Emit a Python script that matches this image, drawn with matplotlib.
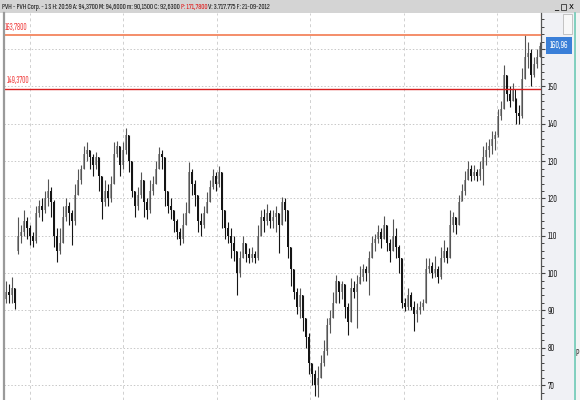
import matplotlib
matplotlib.use("Agg")
import matplotlib.pyplot as plt
from matplotlib.patches import Rectangle
from matplotlib.lines import Line2D
from matplotlib import font_manager as fm
import numpy as np

# ---------------- data ----------------
closes = [95, 94, 96, 92, 110, 111, 114, 112, 110, 108.5,
          116, 118, 117, 120, 122, 119, 110, 106, 108, 115,
          118, 116, 114, 121, 125, 128, 132, 133, 131, 129,
          131, 126, 119, 122, 120, 124, 132, 134, 129, 133,
          137, 130, 122, 118, 121, 125, 119, 117, 122, 124,
          128, 132, 131, 122, 118, 117, 114, 111, 109, 113,
          116, 127, 124, 121, 114, 113, 116, 119, 123, 126,
          124, 127, 117, 112, 110, 108, 106, 100, 104, 108,
          105, 104, 105, 104, 110, 115, 114, 116, 114, 115,
          116, 113, 119, 117, 107, 101, 95, 91, 94, 88,
          83, 76, 73, 70, 72, 76, 79, 86, 88, 92,
          98, 95, 97, 91, 87, 96, 95, 97, 99, 101,
          100, 104, 108, 109, 111, 109, 113, 108, 106, 110,
          107, 104, 92, 91, 94, 91, 89, 90, 91, 92,
          101, 102, 100, 101, 99, 104, 106, 104, 113, 115,
          113, 119, 122, 125, 128, 126, 127, 126, 128, 131,
          133, 134, 136, 137, 142, 144, 153, 148, 146, 149,
          143, 142, 152, 158, 159, 153, 156, 158, 160.96]

opens = [93, 95, 94, 96, 106, 110, 111, 114, 112, 110,
         108.5, 116, 118, 117, 120, 122, 119, 110, 106, 108,
         115, 118, 116, 114, 121, 125, 128, 132, 133, 131,
         129, 131, 126, 119, 122, 120, 124, 132, 134, 129,
         133, 137, 130, 122, 118, 121, 125, 119, 117, 122,
         124, 128, 132, 131, 122, 118, 117, 114, 111, 109,
         113, 116, 127, 124, 121, 114, 113, 116, 119, 123,
         126, 124, 127, 117, 112, 110, 108, 106, 100, 104,
         108, 105, 104, 105, 104, 110, 115, 114, 116, 114,
         115, 116, 113, 119, 117, 107, 101, 95, 91, 94,
         88, 83, 76, 73, 70, 72, 76, 79, 86, 88,
         92, 98, 95, 97, 91, 87, 96, 95, 97, 99,
         101, 100, 104, 108, 109, 111, 109, 113, 108, 106,
         110, 107, 104, 92, 91, 94, 91, 89, 90, 91,
         92, 101, 102, 100, 101, 99, 104, 106, 104, 113,
         115, 113, 119, 122, 125, 128, 126, 127, 126, 128,
         131, 133, 134, 136, 137, 142, 144, 153, 148, 146,
         149, 143, 142, 152, 158, 159, 153, 156, 158]

highs = [98, 97, 99, 96, 115, 113, 117, 115, 113, 111,
         118, 119.5, 120, 122, 125.3, 123, 119.5, 112, 112, 118,
         120, 119, 117, 124, 128, 129, 134, 135, 133, 132,
         132.5, 131, 126, 125, 124, 126, 135, 135.5, 134, 135,
         138.8, 137, 130, 122, 123, 127, 125, 120, 125, 126,
         130, 133.8, 133, 131, 122, 120, 117, 114.5, 112, 116,
         119, 129.8, 128, 125, 121, 116, 118, 121.8, 125, 128,
         127, 128.7, 127, 117, 113.8, 112, 110, 106, 106, 110,
         108, 106.6, 107, 106, 113, 117, 117.3, 118.5, 117, 117,
         118, 116, 120.5, 120, 117, 107, 101, 96, 96, 94,
         88, 84, 76, 74, 75, 78, 82, 88, 90, 95,
         99.5, 98, 98, 97, 92, 98.7, 98, 99.5, 102, 102.5,
         102, 106, 110, 110.5, 113, 112, 115.2, 113, 109, 114.6,
         112, 107.4, 104, 93.4, 96, 95, 92.5, 92, 92.5, 93,
         104, 104, 103, 104.5, 102, 107, 108.8, 107, 116.8, 116.5,
         115, 121, 124, 127.4, 130, 129, 129, 128, 130, 134,
         135, 136, 138, 138, 144, 146, 155.8, 153, 150, 151,
         147, 145, 155, 163.8, 162, 160, 158, 160, 162]

lows = [92, 92, 92, 90.5, 105, 108, 110, 109, 107.5, 107,
        108, 115, 114, 116, 118, 115, 107, 103, 105, 108,
        114, 113, 107.5, 113, 121, 124, 128, 130, 128, 126,
        128, 122, 114.6, 118, 118, 119, 124, 131, 126, 128,
        132, 127, 120.5, 115, 117, 120, 115, 114.6, 116, 121,
        124, 128, 128, 118, 116, 114.6, 111, 109, 107.4, 108,
        113, 116, 121, 118, 111, 110, 112, 116, 119, 122.6,
        122, 123, 112, 109, 108, 104, 103.2, 94.1, 99, 104,
        103, 102.7, 103, 102.7, 103.5, 110, 111, 113, 112, 112,
        111, 105.3, 113, 114, 104, 96.5, 93, 89, 88, 84.6,
        80, 73, 70, 67, 66.7, 72, 75, 78, 84, 88,
        92, 92, 93, 88, 83.5, 87, 93.4, 85.4, 97, 98,
        98, 94, 104, 106, 108, 106.6, 109, 106, 103, 106,
        104, 100, 90.7, 89.9, 90, 90, 84.6, 87, 89, 90,
        92, 100, 98.7, 99, 97.4, 98.5, 103, 102.7, 104, 111,
        110.6, 113, 119.4, 121, 125, 124.7, 125, 124.7, 125, 123.7,
        129, 131, 132, 133, 136.5, 141, 144, 146, 144.4, 146,
        140, 140, 141.5, 152, 155, 150, 152.5, 155, 158]

level_high = 163.78
level_low = 149.37
last_price = 160.96
ytick_values = [70, 80, 90, 100, 110, 120, 130, 140, 150, 160]

header_parts = [("PVH - PVH Corp. - 1 S H: 20:59 A: 94,3700 M: 94,6000 m: 90,1500 C: 92,6300 ", "#111111"),
                ("P: 171,7800", "#e01010"),
                (" V: 3.717.775 F: 21-09-2012", "#111111")]

# ---------------- fonts ----------------
avail = {f.name for f in fm.fontManager.ttflist}
NARROW = "DejaVu Sans"
for cand in ["Sofia Sans Extra Condensed", "Pathway Gothic One", "Encode Sans Compressed",
             "Saira Extra Condensed", "Fira Sans Extra Condensed", "Barlow Condensed",
             "Roboto Condensed", "Archivo Narrow", "Liberation Sans Narrow"]:
    if cand in avail:
        NARROW = cand
        break

W, H = 580, 400
fig = plt.figure(figsize=(W / 100, H / 100), dpi=100)
fig.patch.set_facecolor("white")
r = fig.canvas.get_renderer()


def fx(px):
    return px / W


def fy(py):
    return 1 - py / H


def fit_size(text, target_px, base=6.0):
    t = fig.text(0, 0, text, fontsize=base, family=NARROW)
    w = t.get_window_extent(renderer=r).width
    t.remove()
    return base * target_px / w


# header bar
fig.patches.append(Rectangle((0, fy(13)), 1, 13 / H, transform=fig.transFigure,
                             facecolor="#d4d4d4", edgecolor="none", zorder=-1))
# right panel
fig.patches.append(Rectangle((fx(541), 0), (574 - 541) / W, fy(13), transform=fig.transFigure,
                             facecolor="#f0f1f5", edgecolor="none", zorder=-1))
fig.patches.append(Rectangle((fx(575), 0), 5 / W, fy(13), transform=fig.transFigure,
                             facecolor="#f4f4f4", edgecolor="none", zorder=-1))
fig.lines.append(Line2D([fx(574.5), fx(574.5)], [0, fy(13)], transform=fig.transFigure,
                        color="#6cc8b4", lw=1.2))
# left border
fig.lines.append(Line2D([fx(3.5), fx(3.5)], [0, fy(13)], transform=fig.transFigure,
                        color="#9a9a9a", lw=1.6))

# header text
full_header = "".join(p[0] for p in header_parts)
hsize = fit_size(full_header, 270)
x_cursor = 2
for txt, col in header_parts:
    t = fig.text(fx(x_cursor), fy(7), txt, fontsize=hsize, family=NARROW, color=col,
                 ha="left", va="center")
    bb = t.get_window_extent(renderer=r)
    x_cursor += bb.width
# window buttons
fig.text(fx(556), fy(6.5), "_", fontsize=6, family="DejaVu Sans", ha="center", va="center")
fig.patches.append(Rectangle((fx(561), fy(10)), 5 / W, 6 / H, transform=fig.transFigure,
                             facecolor="none", edgecolor="#333333", lw=0.6))
fig.text(fx(571), fy(6.5), "x", fontsize=6, family="DejaVu Sans", ha="center", va="center")
# small scroll widget top-right
fig.patches.append(Rectangle((fx(563), fy(34)), 9 / W, 20 / H, transform=fig.transFigure,
                             facecolor="#f8f8f8", edgecolor="#bbbbbb", lw=0.6))

# ---------------- main axes ----------------
ax = fig.add_axes([fx(4), 0, (541 - 4) / W, fy(13)])
n = len(closes)
xs = np.arange(n)
ax.set_xlim(-0.5, n - 0.5)
ymin = 150 - (400 - 87) / 3.76
ymax = 150 + (87 - 13) / 3.76
ax.set_ylim(ymin, ymax)

o = np.array(opens, float)
c = np.array(closes, float)
h = np.array(highs, float)
l = np.array(lows, float)
up = c >= o
cols = np.where(up, "#959595", "#151515")
ax.vlines(xs, l, h, colors=np.where(up, "#555555", "#151515"), lw=0.8, zorder=3)
body_h = np.where(np.abs(c - o) < 0.3, 0.3, c - o)
ax.bar(xs, body_h, bottom=o, width=0.64, color=cols, linewidth=0, zorder=4)

# grid
for v in ytick_values:
    ax.axhline(v, color="#c8c8c8", lw=0.7, ls=(0, (1.5, 2)), zorder=1)
vgrid = [8.2, 39.2, 70.5, 101.5, 132.8, 163.8]
for v in vgrid:
    ax.axvline(v, color="#d0d0d0", lw=0.7, ls=(0, (3, 3)), zorder=1)

# levels
lsize = fit_size("163,7800", 23)
ax.axhline(level_high, color="#f27a50", lw=1.2, zorder=5)
ax.axhline(level_low, color="#d82020", lw=1.0, zorder=5)
ax.text(-0.3, level_high + 0.9, "163,7800", fontsize=lsize, family=NARROW, color="#f04040",
        ha="left", va="bottom", zorder=6)
ax.text(0.3, level_low + 0.9, "149,3700", fontsize=lsize, family=NARROW, color="#f04040",
        ha="left", va="bottom", zorder=6)

# axes styling
tsize = fit_size("150", 10)
for s in ["top", "left", "bottom"]:
    ax.spines[s].set_visible(False)
ax.spines["right"].set_color("#555555")
ax.spines["right"].set_linewidth(0.9)
ax.set_xticks([])
ax.yaxis.tick_right()
ax.set_yticks(ytick_values)
# the 160 label sits under the last-price box, as in the reference
ax.set_yticklabels([("" if v == 160 else str(v)) for v in ytick_values],
                   fontsize=tsize, family=NARROW, color="#222222")
ax.set_yticks(np.arange(66, 170, 2), minor=True)
ax.tick_params(axis="y", which="major", length=3, width=0.8, color="#444444", pad=1.5)
ax.tick_params(axis="y", which="minor", length=1.8, width=0.7, color="#444444")
ax.set_facecolor("white")

# last price label
yp = ax.transData.transform((0, last_price))[1]
yp_px = H - yp
fig.patches.append(Rectangle((fx(546), fy(yp_px + 8.5)), 26 / W, 17 / H, transform=fig.transFigure,
                             facecolor="#3a7fd8", edgecolor="none", zorder=10))
fig.text(fx(559), fy(yp_px), "160,96", fontsize=fit_size("160,96", 19), family=NARROW,
         color="white", ha="center", va="center", zorder=11)
fig.text(fx(576), fy(353), "P", fontsize=tsize, family=NARROW, color="#333333",
         ha="left", va="center")

fig.savefig("out.png", dpi=100, facecolor="white")
